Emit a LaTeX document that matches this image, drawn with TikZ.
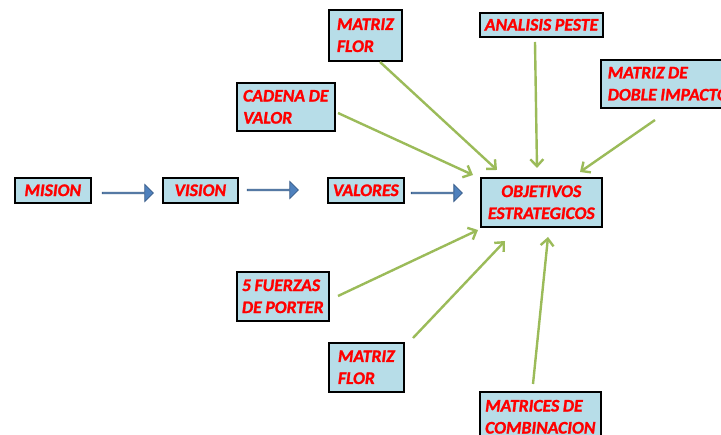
\documentclass[tikz,border=0pt]{standalone}
\usepackage{fontspec}
\setmainfont{Carlito}
\newfontfamily\boxfont{Carlito Bold Italic}[FakeBold=1.3, WordSpace=0.9]
\usetikzlibrary{shapes.arrows,arrows.meta}
\definecolor{boxfill}{HTML}{B7DDE8}
\definecolor{boxtext}{HTML}{FF0000}
\definecolor{flowblue}{HTML}{4F81BD}
\definecolor{flowedge}{HTML}{385D8A}
\definecolor{feedgreen}{HTML}{9BBB59}
\tikzset{
  box/.style={draw=black, line width=1.6pt, fill=boxfill, anchor=north west,
    inner xsep=5pt, inner ysep=0pt, align=left,
    font=\fontsize{17.7}{22}\boxfont, text=boxtext},
  flow/.style={single arrow, fill=flowblue, draw=flowedge, line width=0.8pt,
    minimum height=51pt, minimum width=17pt, inner sep=0pt,
    single arrow head extend=4.5pt, single arrow head indent=0pt},
  feed/.style={draw=feedgreen, line width=2.4pt,
    -{Straight Barb[length=7pt,width=13pt,line width=2.4pt]}}
}
\begin{document}
\begin{tikzpicture}[x=1pt,y=-1pt]
\useasboundingbox (0,0) rectangle (721,435);
\clip (0,0) rectangle (721,435);

% main chain
\node[box, minimum width=76pt, minimum height=25pt] (mision) at (14,177) {MISION};
\node[box, minimum width=75pt, minimum height=25pt] (vision) at (162,177) {VISION};
\node[box, minimum width=76pt, minimum height=25pt] (valores) at (327,177) {VALORES};
\node[box, minimum width=121pt, minimum height=49pt, align=center] (objetivos) at (480,177) {OBJETIVOS\\ESTRATEGICOS};

% surrounding tools
\node[box, minimum width=73pt, minimum height=51pt] (florA) at (328,9) {MATRIZ\\FLOR};
\node[box, minimum width=123pt, minimum height=24pt] (peste) at (479,12) {ANALISIS PESTE};
\node[box, minimum width=135pt, minimum height=48pt] (doble) at (600,59) {MATRIZ DE\\DOBLE IMPACTO};
\node[box, minimum width=98pt, minimum height=48pt] (cadena) at (236,82) {CADENA DE\\VALOR};
\node[box, minimum width=92pt, minimum height=49pt] (porter) at (236,271) {5 FUERZAS\\DE PORTER};
\node[box, minimum width=75pt, minimum height=49pt] (florB) at (328,342) {MATRIZ\\FLOR};
\node[box, minimum width=121pt, minimum height=50pt] (combin) at (479,391) {MATRICES DE\\COMBINACION};

% block arrows of the chain
\node[flow] (f1) at (127.5,193) {};
\node[flow] (f2) at (272.5,190) {};
\node[flow] (f3) at (436.5,193) {};

% end points of the feeding arrows
\coordinate (sFlorA) at (380,62);   \coordinate (eFlorA) at (497,170);
\coordinate (sCadena) at (338,113); \coordinate (eCadena) at (473,175);
\coordinate (sPeste) at (535,42);   \coordinate (ePeste) at (537,168);
\coordinate (sDoble) at (655,120);  \coordinate (eDoble) at (580,172);
\coordinate (sPorter) at (338,296); \coordinate (ePorter) at (478,230);
\coordinate (sFlorB) at (413,338);  \coordinate (eFlorB) at (505,241);
\coordinate (sCombin) at (533,384); \coordinate (eCombin) at (548,237);

\draw[feed] (sFlorA) -- (eFlorA);
\draw[feed] (sCadena) -- (eCadena);
\draw[feed] (sPeste) -- (ePeste);
\draw[feed] (sDoble) -- (eDoble);
\draw[feed] (sPorter) -- (ePorter);
\draw[feed] (sFlorB) -- (eFlorB);
\draw[feed] (sCombin) -- (eCombin);
\end{tikzpicture}
\end{document}
